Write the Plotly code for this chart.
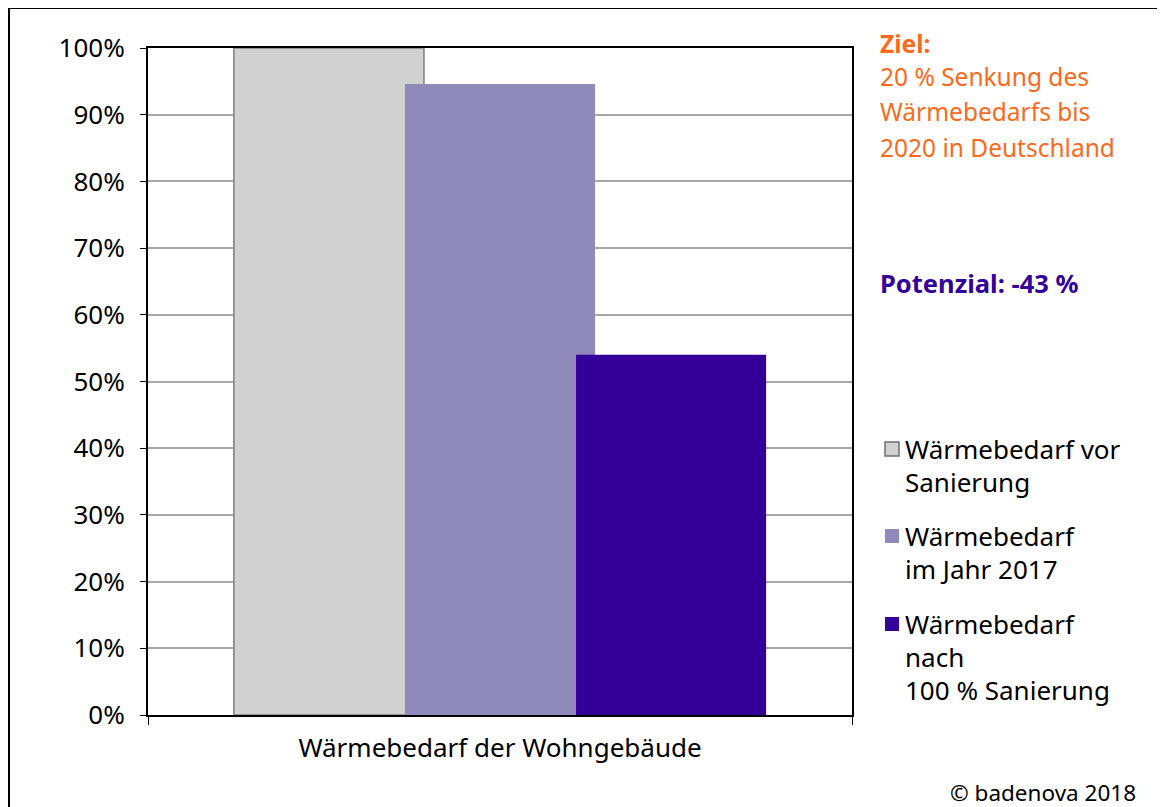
import plotly.graph_objects as go

category = ["Wärmebedarf der Wohngebäude"]
series_names = [
    "Wärmebedarf vor<br>Sanierung",
    "Wärmebedarf<br>im Jahr 2017",
    "Wärmebedarf<br>nach<br>100 % Sanierung",
]
values = [1.00, 0.946, 0.54]
colors = ["#d1d1d1", "#8f8aba", "#330099"]
line_colors = ["#7f7f7f", "#8f8aba", "#330099"]
line_widths = [1.5, 0, 0]
offsets = [-0.378, -0.135, 0.108]
bar_width = 0.27

# page offset of the figure inside the html body
OFF = 8
W, H = 1165 - OFF, 807 - OFF
L, R, T, B = 148, 852, 48, 715  # page pixels of the plot area


def px_x(p):
    return (p - L) / (R - L)


def px_y(p):
    return (B - p) / (B - T)


FONT = "Noto Sans"

fig = go.Figure()
for i in range(3):
    fig.add_trace(go.Bar(
        x=category, y=[values[i]], name=series_names[i],
        marker=dict(color=colors[i], line=dict(color=line_colors[i], width=line_widths[i])),
        offset=offsets[i], width=bar_width, showlegend=False,
    ))

fig.update_layout(
    width=W, height=H,
    margin=dict(l=L - OFF, r=1165 - R, t=T - OFF, b=807 - B, pad=0),
    paper_bgcolor="white", plot_bgcolor="white",
    barmode="overlay",
    font=dict(family=FONT, color="black"),
    xaxis=dict(
        range=[-0.5, 0.5], showline=True, linecolor="black", linewidth=2, mirror=True,
        ticks="outside", tickson="boundaries", ticklen=8, tickcolor="black",
        tickfont=dict(size=26, family=FONT), showgrid=False, ticklabelstandoff=9,
    ),
    yaxis=dict(
        range=[0, 1], dtick=0.1, tickformat=".0%", showline=True, linecolor="black",
        linewidth=2, mirror=True, ticks="outside", ticklen=6, tickcolor="black",
        tickfont=dict(size=26, family=FONT), gridcolor="#a8a8a8", gridwidth=2,
        ticklabelstandoff=10, zeroline=False,
    ),
)

# legend drawn manually (symbol close to text as in reference)
legend_first_line = [449, 536, 624]
LINE_H = 33
for i, name in enumerate(series_names):
    yc = legend_first_line[i]
    fig.add_shape(type="rect", xref="paper", yref="paper",
                  x0=px_x(885), x1=px_x(899), y0=px_y(yc + 7), y1=px_y(yc - 7),
                  fillcolor=colors[i],
                  line=dict(color="#6f6f6f" if i == 0 else colors[i], width=1.5 if i == 0 else 0))
    for j, line in enumerate(name.split("<br>")):
        fig.add_annotation(text=line, x=px_x(903), y=px_y(yc + j * LINE_H),
                           xref="paper", yref="paper", xanchor="left", yanchor="middle",
                           showarrow=False, font=dict(size=26, family=FONT, color="black"))

ORANGE = "#f96a1c"
ann = [
    ("<b>Ziel:</b>", 43, ORANGE, 24.5),
    ("20 % Senkung des", 77, ORANGE, 24.5),
    ("Wärmebedarfs bis", 112, ORANGE, 24.5),
    ("2020 in Deutschland", 147, ORANGE, 24.5),
    ("<b>Potenzial: -43 %</b>", 283, "#330099", 25.5),
]
for txt, py, col, sz in ann:
    fig.add_annotation(text=txt, x=px_x(878), y=px_y(py), xref="paper", yref="paper",
                       xanchor="left", yanchor="middle", showarrow=False,
                       font=dict(size=sz, family=FONT, color=col))

fig.add_annotation(text="© badenova 2018", x=px_x(1138), y=px_y(792), xref="paper", yref="paper",
                   xanchor="right", yanchor="middle", showarrow=False,
                   font=dict(size=22.5, family=FONT, color="black"))

# outer frame (left and top edges visible)
fig.add_shape(type="rect", xref="paper", yref="paper",
              x0=px_x(8.5), x1=px_x(1200), y0=px_y(850), y1=px_y(7.5),
              line=dict(color="black", width=3), fillcolor="rgba(0,0,0,0)", layer="above")

fig.write_html("out.html")
